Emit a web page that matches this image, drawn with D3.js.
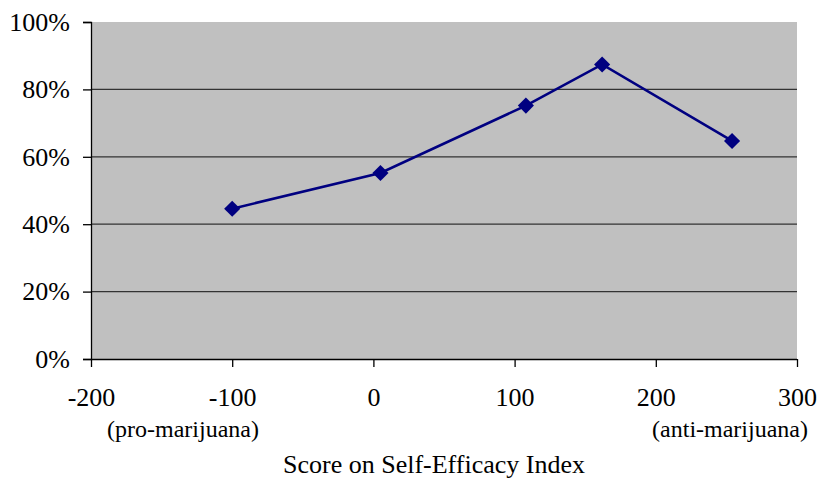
<!DOCTYPE html>
<html><head><meta charset="utf-8">
<script src="https://cdn.jsdelivr.net/npm/d3@7"></script>
<style>body{margin:0;background:#fff}svg{display:block}
svg text{font-family:"Liberation Serif","DejaVu Serif","Times New Roman",serif !important;}</style>
</head><body>
<svg id="c" width="820" height="479"></svg>
<script>
const xValues = [-100, 5, 108, 162, 254];
const yValues = [0.446, 0.552, 0.752, 0.874, 0.647];
const xTicks = [-200, -100, 0, 100, 200, 300];
const yTicks = [0, 0.2, 0.4, 0.6, 0.8, 1.0];
const xTitle = "Score on Self-Efficacy Index";
const leftNote = "(pro-marijuana)";
const rightNote = "(anti-marijuana)";

const svg = d3.select("#c");
const L = 91, R = 797, T = 22, B = 359;
const x = d3.scaleLinear().domain([-200, 300]).range([L, R]);
const y = d3.scaleLinear().domain([0, 1]).range([B, T]);

svg.append("rect").attr("x", L).attr("y", T).attr("width", R - L).attr("height", B - T).attr("fill", "#c0c0c0");

svg.append("g").selectAll("line").data(yTicks.filter(d => d > 0 && d < 1)).join("line")
  .attr("x1", L).attr("x2", R).attr("y1", d => y(d)).attr("y2", d => y(d))
  .attr("stroke", "#333").attr("stroke-width", 1.2);

const ya = svg.append("g").attr("transform", `translate(${L},0)`)
  .call(d3.axisLeft(y).tickValues(yTicks).tickFormat(d3.format(".0%")).tickSize(8).tickPadding(13));
const xa = svg.append("g").attr("transform", `translate(0,${B})`)
  .call(d3.axisBottom(x).tickValues(xTicks).tickFormat(d => String(d)).tickSize(8).tickPadding(21));
[ya, xa].forEach(a => {
  a.attr("font-family", null);
  a.select(".domain").attr("stroke", "#000").attr("stroke-width", 1.3);
  a.selectAll(".tick line").attr("stroke", "#000").attr("stroke-width", 1.3);
  a.selectAll("text").attr("font-size", 26).attr("fill", "#000");
});
xa.select(".domain").attr("d", `M${L},0.5H${R}`);

const line = d3.line().x((d, i) => x(xValues[i])).y(d => y(d));
svg.append("path").datum(yValues).attr("d", line).attr("fill", "none")
  .attr("stroke", "#000080").attr("stroke-width", 2.6);

svg.append("g").selectAll("path").data(yValues).join("path")
  .attr("d", d3.symbol(d3.symbolSquare, 130)())
  .attr("transform", (d, i) => `translate(${x(xValues[i])},${y(d)}) rotate(45)`)
  .attr("fill", "#000080");

svg.append("text").attr("x", 183).attr("y", 437).attr("text-anchor", "middle")
  .attr("font-size", 24).text(leftNote);
svg.append("text").attr("x", 808).attr("y", 437).attr("text-anchor", "end")
  .attr("font-size", 24).text(rightNote);
svg.append("text").attr("x", 434).attr("y", 473).attr("text-anchor", "middle")
  .attr("font-size", 26).text(xTitle);
</script>
</body></html>
